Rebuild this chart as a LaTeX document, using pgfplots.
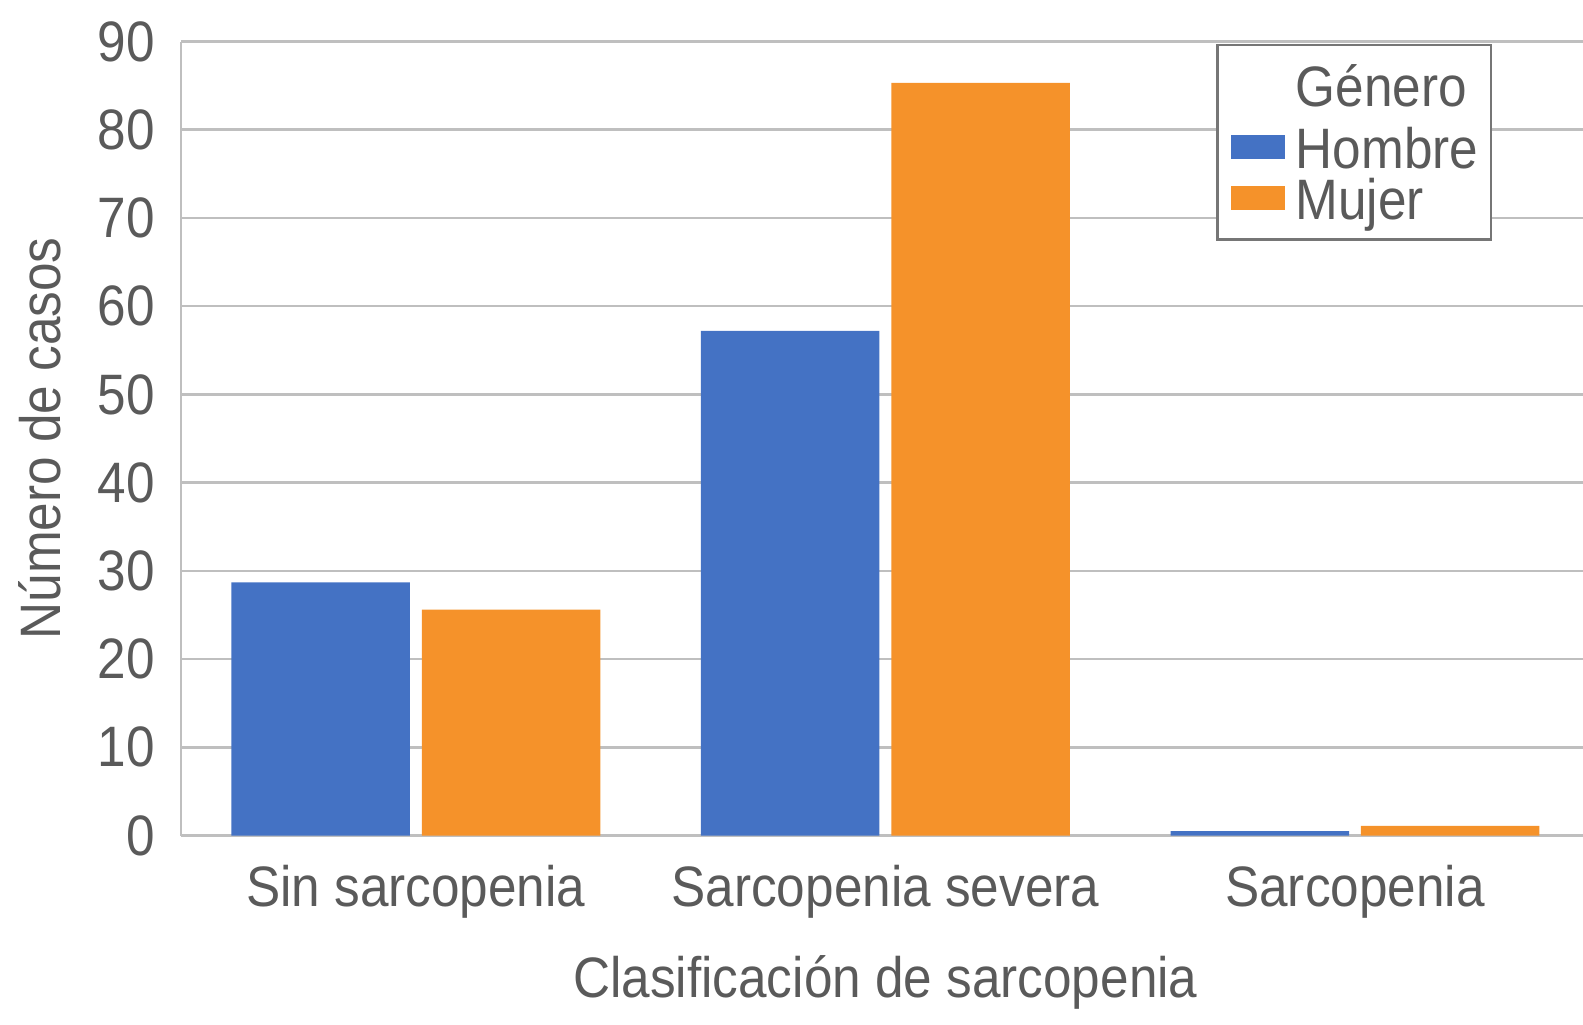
\documentclass[border=0pt]{standalone}
\usepackage{pgfplots}
\pgfplotsset{compat=1.18}
\usepackage{fontspec}
\setmainfont{Liberation Sans}[FakeStretch=0.9]
\definecolor{hblue}{HTML}{4472C4}
\definecolor{morange}{HTML}{F5922A}
\definecolor{txt}{HTML}{5A5A5A}
\definecolor{gridc}{HTML}{BFBFBF}
\definecolor{legc}{HTML}{767676}
\begin{document}
\fontsize{28.5}{34}\selectfont
\begin{tikzpicture}
\begin{axis}[
  name=ax,
  at={(0,0)}, anchor=south west,
  scale only axis,
  width=704.4pt, height=397pt,
  xmin=-0.5, xmax=2.5, ymin=0, ymax=90,
  ybar, bar width=89.25pt,
  xtick={0,1,2},
  xticklabels={Sin sarcopenia, Sarcopenia severa, Sarcopenia},
  ytick={0,10,...,90},
  major tick length=0pt,
  tick style={draw=none},
  ymajorgrids,
  grid style={gridc, line width=1.3pt},
  axis line style={gridc, line width=1.3pt},
  axis x line*=bottom, axis y line*=left,
  tick label style={text=txt, inner sep=0pt},
  yticklabel style={anchor=east, xshift=-13pt},
  xticklabel style={anchor=base, yshift=-35.5pt},
  /pgf/number format/assume math mode=true,
  legend style={at={(0.735,0.9975)}, anchor=north west,
    draw=legc, line width=1.25pt, fill=white,
    inner xsep=6.5pt, inner ysep=0pt, row sep=0pt, column sep=5.5pt,
    nodes={inner sep=0pt, text=txt},
    cells={anchor=base west}},
]
\addlegendimage{empty legend}
\addlegendentry[text height=30.75pt, text depth=10pt]{Género}
\addplot[fill=hblue, draw=none, bar shift=-47.6pt,
  legend image code/.code={\fill[hblue] (0pt,4.5pt) rectangle (27pt,16.5pt);}]
  coordinates {(0,28.7) (1,57.2) (2,0.5)};
\addlegendentry[text height=21pt, text depth=4.5pt]{Hombre}
\addplot[fill=morange, draw=none, bar shift=47.6pt,
  legend image code/.code={\fill[morange] (0pt,4.5pt) rectangle (27pt,16.5pt);}]
  coordinates {(0,25.6) (1,85.3) (2,1.1)};
\addlegendentry[text height=21pt, text depth=10pt]{Mujer}
\end{axis}
\node[anchor=base, text=txt] at ([yshift=-81pt]ax.south) {Clasificación de sarcopenia};
\node[rotate=90, anchor=base, text=txt] at ([xshift=-60pt]ax.west) {Número de casos};
\pgfresetboundingbox
\path[use as bounding box] ([xshift=-90.5pt, yshift=-94.25pt]ax.south west) rectangle ++(791.5pt,512pt);
\end{tikzpicture}
\end{document}
